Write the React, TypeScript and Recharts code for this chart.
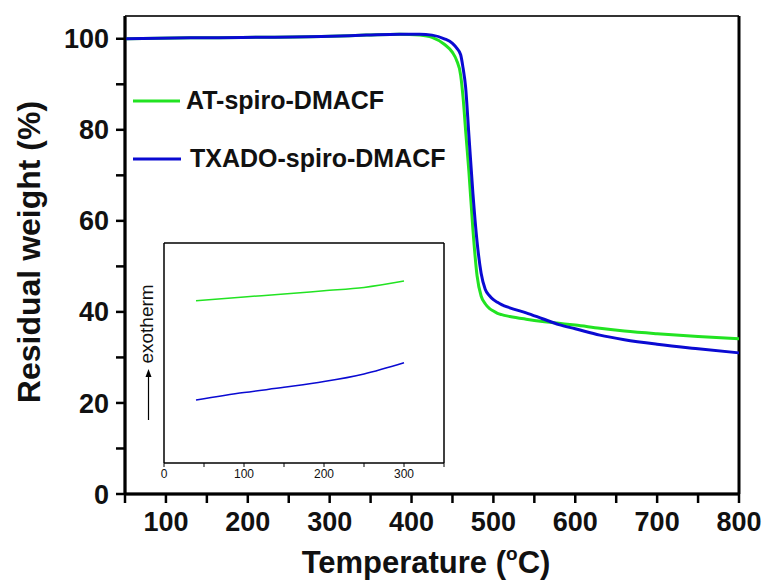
import React from "react";
import { LineChart, Line, XAxis, YAxis, ReferenceLine } from "recharts";

// main TGA curves (temperature in °C, residual weight in %)
const temps = [50, 130, 290, 345, 385, 410, 425, 440, 450, 455, 460, 463, 466, 470, 475, 480, 485, 490, 495, 500, 505, 510, 520, 540, 560, 580, 600, 630, 660, 700, 750, 800];
const atWeight = [100, 100.2, 100.5, 100.8, 101, 100.8, 100.3, 98.8, 97, 95.3, 92, 87, 80, 71, 58, 48, 43.5, 41.8, 40.8, 40.2, 39.7, 39.4, 39.0, 38.4, 37.9, 37.5, 37.1, 36.4, 35.8, 35.2, 34.6, 34.1];
const txWeight = [100, 100.2, 100.5, 100.8, 101, 101, 100.8, 100, 99, 98, 96.5, 93.5, 89.5, 79, 66, 55.5, 48.5, 45, 43.6, 42.7, 42.1, 41.6, 40.9, 39.8, 38.5, 37.2, 36.3, 34.9, 33.9, 32.9, 31.9, 31.0];

const xTicks = [50, 100, 150, 200, 250, 300, 350, 400, 450, 500, 550, 600, 650, 700, 750, 800];
const xLabels = ["100", "200", "300", "400", "500", "600", "700", "800"];
const yTicks = [0, 10, 20, 30, 40, 50, 60, 70, 80, 90, 100];
const yLabels = ["0", "20", "40", "60", "80", "100"];

// inset DSC curves (arbitrary heat-flow units)
const insetTemps = [40, 100, 150, 200, 250, 300];
const insetAt = [7.38, 7.55, 7.68, 7.83, 7.98, 8.27];
const insetTx = [2.86, 3.2, 3.44, 3.7, 4.05, 4.56];
const insetTicks = [0, 50, 100, 150, 200, 250, 300, 350];
const insetLabels = ["0", "100", "200", "300"];

const GREEN = "#22e322";
const BLUE = "#0a0ad2";
const FONT = "'Liberation Sans', Arial, sans-serif";

const mainData = temps.map((t, i) => ({ t, at: atWeight[i], tx: txWeight[i] }));
const insetData = insetTemps.map((t, i) => ({ t, at: insetAt[i], tx: insetTx[i] }));

const pick = (labels: string[]) => (v: number) =>
  labels.includes(String(v)) ? String(v) : "";

export default function App() {
  return (
    <div style={{ position: "absolute", left: 0, top: 0, width: 766, height: 583, background: "#fff" }}>
      <LineChart
        width={766}
        height={583}
        data={mainData}
        margin={{ top: 16, right: 27, bottom: 0, left: 0 }}
      >
        <XAxis
          dataKey="t"
          type="number"
          domain={[50, 800]}
          ticks={xTicks}
          interval={0}
          tickFormatter={pick(xLabels)}
          height={89}
          tickSize={9}
          tickMargin={9}
          stroke="#000"
          axisLine={{ stroke: "#000", strokeWidth: 2.5 }}
          tickLine={{ stroke: "#000", strokeWidth: 2.5 }}
          tick={{ fill: "#111", fontSize: 27, fontWeight: 700, fontFamily: FONT }}
        />
        <YAxis
          type="number"
          domain={[0, 105]}
          ticks={yTicks}
          interval={0}
          tickFormatter={pick(yLabels)}
          width={125}
          tickSize={9}
          tickMargin={7}
          stroke="#000"
          axisLine={{ stroke: "#000", strokeWidth: 2.5 }}
          tickLine={{ stroke: "#000", strokeWidth: 2.5 }}
          tick={{ fill: "#111", fontSize: 27, fontWeight: 700, fontFamily: FONT }}
        />
        <ReferenceLine x={50} stroke="#000" strokeWidth={3} />
        <ReferenceLine y={0} stroke="#000" strokeWidth={3} />
        <ReferenceLine y={105} stroke="#333" strokeWidth={2} />
        <ReferenceLine x={800} stroke="#000" strokeWidth={3} />
        <Line type="monotone" dataKey="at" stroke={GREEN} strokeWidth={3} dot={false} isAnimationActive={false} />
        <Line type="monotone" dataKey="tx" stroke={BLUE} strokeWidth={3} dot={false} isAnimationActive={false} />
      </LineChart>

      <div style={{ position: "absolute", left: 152, top: 241 }}>
        <LineChart
          width={296}
          height={243}
          data={insetData}
          margin={{ top: 2, right: 4, bottom: 0, left: 12 }}
        >
          <XAxis
            dataKey="t"
            type="number"
            domain={[0, 350]}
            ticks={insetTicks}
            interval={0}
            tickFormatter={pick(insetLabels)}
            height={21}
            tickSize={4}
            tickMargin={2}
            stroke="#000"
            axisLine={{ stroke: "#000", strokeWidth: 1.5 }}
            tickLine={{ stroke: "#000", strokeWidth: 1 }}
            tick={{ fill: "#111", fontSize: 12, fontFamily: FONT }}
          />
          <YAxis type="number" domain={[0, 10]} hide />
          <ReferenceLine x={0} stroke="#000" strokeWidth={1.5} />
          <ReferenceLine y={10} stroke="#000" strokeWidth={1.5} />
          <ReferenceLine x={350} stroke="#000" strokeWidth={1.5} />
          <Line type="monotone" dataKey="at" stroke={GREEN} strokeWidth={1.5} dot={false} isAnimationActive={false} />
          <Line type="monotone" dataKey="tx" stroke={BLUE} strokeWidth={1.5} dot={false} isAnimationActive={false} />
        </LineChart>
      </div>

      <svg
        width={766}
        height={583}
        style={{ position: "absolute", left: 0, top: 0, pointerEvents: "none" }}
        fontFamily={FONT}
      >
        {/* legend */}
        <line x1={133} y1={101} x2={180} y2={101} stroke={GREEN} strokeWidth={3} />
        <text x={186} y={109} fontSize={25} fontWeight={700} fill="#111">AT-spiro-DMACF</text>
        <line x1={133} y1={159} x2={181} y2={159} stroke={BLUE} strokeWidth={3} />
        <text x={190} y={167} fontSize={25} fontWeight={700} fill="#111">TXADO-spiro-DMACF</text>

        {/* axis titles */}
        <text x={426} y={573} fontSize={31} fontWeight={700} textAnchor="middle" fill="#111">
          Temperature (<tspan fontSize={19} dy={-13}>o</tspan><tspan dy={13}>C)</tspan>
        </text>
        <text
          transform="translate(40,252) rotate(-90)"
          fontSize={32}
          fontWeight={700}
          textAnchor="middle"
          fill="#111"
        >
          Residual weight (%)
        </text>

        {/* inset y label */}
        <text transform="translate(153,324) rotate(-90)" fontSize={19} fontWeight={500} textAnchor="middle" fill="#111">
          exotherm
        </text>
        <line x1={148.5} y1={420} x2={148.5} y2={376} stroke="#000" strokeWidth={1.2} />
        <path d="M145.5,377 L148.5,369 L151.5,377 Z" fill="#000" />
      </svg>
    </div>
  );
}
